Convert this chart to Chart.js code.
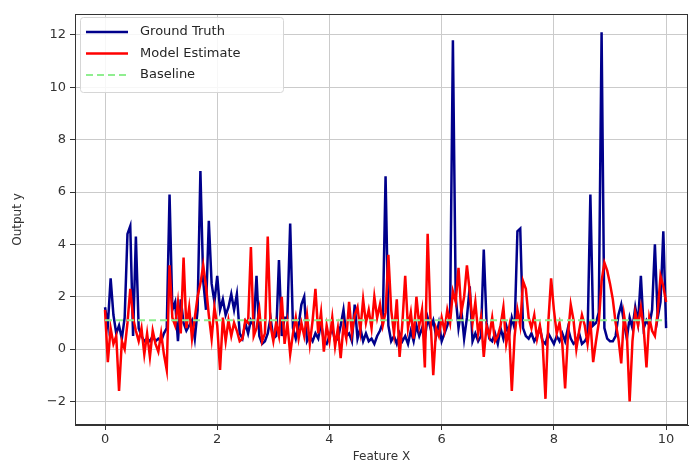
<!DOCTYPE html>
<html lang="en">
<head>
    <meta charset="UTF-8">
    <title>Ground Truth vs Model Estimate</title>
    <script src="https://cdn.jsdelivr.net/npm/chart.js"></script>
    <style>
        html, body { margin: 0; padding: 0; background: #fff; }
        #wrap { width: 690px; height: 464px; }
    </style>
</head>
<body>
    <div id="wrap"><canvas id="lineChart" width="690" height="464"></canvas></div>

    <script>
        // Feature X grid (0 .. 10, step 0.05)
        const xValues = Array.from({ length: 201 }, (_, i) => +(i * 0.05).toFixed(2));

        const groundTruth = [
            1.6, 0.9, 2.7, 1.3, 0.6, 0.9, 0.4, 1.2, 4.4, 4.7,
            0.5, 4.3, 0.8, 0.5, 0.3, 0.4, 0.3, 0.5, 0.3, 0.4,
            0.3, 0.6, 0.8, 5.9, 1.5, 1.8, 0.3, 1.9, 1.0, 0.7,
            0.9, 1.1, 0.4, 1.5, 6.8, 2.6, 1.5, 4.9, 2.5, 1.8,
            2.8, 1.5, 1.9, 1.3, 1.6, 2.1, 1.5, 2.1, 0.6, 0.4,
            1.0, 0.6, 1.1, 0.9, 2.8, 0.5, 0.2, 0.3, 0.6, 1.2,
            0.4, 0.5, 3.4, 0.5, 1.2, 1.2, 4.8, 0.8, 0.4, 0.9,
            1.7, 2.0, 0.3, 0.5, 0.3, 0.6, 0.4, 1.0, 0.3, 0.2,
            0.5, 0.8, 0.3, 0.4, 0.9, 1.5, 0.5, 0.6, 0.3, 1.7,
            0.4, 0.8, 0.3, 0.6, 0.3, 0.4, 0.2, 0.5, 0.7, 1.0,
            6.6, 0.9, 0.3, 0.5, 0.2, 0.6, 0.3, 0.5, 0.2, 0.7,
            0.3, 0.9, 0.5, 0.8, 0.4, 1.2, 0.8, 1.1, 0.5, 1.0,
            0.3, 0.6, 0.9, 1.3, 11.8, 2.0, 0.8, 1.5, 0.4, 1.2,
            2.4, 0.3, 0.6, 0.3, 0.5, 3.8, 1.0, 0.4, 0.3, 0.6,
            0.2, 0.8, 0.4, 0.9, 0.5, 1.2, 0.8, 4.5, 4.6, 0.8,
            0.5, 0.4, 0.6, 0.3, 0.5, 0.8, 0.3, 0.2, 0.6, 0.4,
            0.2, 0.5, 0.3, 0.6, 0.3, 0.8, 0.4, 0.2, 0.3, 0.6,
            0.2, 0.3, 0.5, 5.9, 0.9, 1.0, 1.4, 12.1, 0.8, 0.4,
            0.3, 0.3, 0.5, 1.3, 1.7, 1.0, 0.4, 1.2, 0.8, 1.6,
            1.0, 2.8, 0.8, 1.1, 0.9, 1.5, 4.0, 1.2, 1.8, 4.5,
            0.8
        ];

        const modelEstimate = [
            1.5, -0.5, 0.8, 0.2, 0.5, -1.6, 0.3, 0.0, 1.0, 2.3,
            1.2, 0.7, 0.3, 0.8, -0.2, 0.6, -0.3, 0.7, 0.2, -0.1,
            0.6, -0.2, -0.8, 3.2, 1.2, 0.9, 1.8, 0.6, 3.5, 0.8,
            1.6, 0.4, 1.2, 2.0, 2.5, 3.2, 2.4, 1.3, 0.4, 1.6,
            0.9, -0.8, 1.2, 0.3, 1.1, 0.5, 1.0, 0.7, 0.3, 0.4,
            1.1, 1.0, 3.9, 0.5, 0.8, 1.5, 0.3, 0.6, 4.3, 0.9,
            0.3, 1.0, 0.5, 2.0, 0.2, 1.0, -0.2, 0.6, 1.2, 0.4,
            1.0, 0.5, 1.3, 0.2, 1.1, 2.3, 0.6, 1.4, -0.1, 0.9,
            0.3, 1.2, 0.1, 0.8, -0.35, 0.9, 0.4, 1.8, 0.6, 1.3,
            1.6, 0.7, 1.9, 1.0, 1.5, 0.8, 2.0, 1.2, 1.7, 0.9,
            1.4, 3.6, 1.5, 0.6, 1.9, -0.3, 1.0, 2.8, 0.8, 1.4,
            0.4, 2.0, 0.9, 1.5, -0.7, 4.4, 1.2, -1.0, 0.8, 0.5,
            1.2, 0.7, 1.5, 1.0, 2.2, 1.8, 3.1, 1.4, 2.0, 3.2,
            2.2, 1.0, 1.8, 0.6, 1.2, -0.3, 0.9, 0.5, 1.2, 0.3,
            0.5, 0.9, 1.6, 0.2, 0.8, -1.6, 0.5, 1.5, 0.9, 2.6,
            2.3, 1.2, 0.8, 1.3, 0.4, 0.9, 0.2, -1.9, 1.0, 2.7,
            1.5, 0.6, 1.0, 0.2, -1.5, 0.5, 1.7, 1.1, 0.0, 0.7,
            1.3, 0.9, 0.2, 1.1, -0.5, 0.3, 1.0, 2.6, 3.3, 3.0,
            2.5, 1.9, 1.0, 0.4, -0.55, 1.3, 0.6, -2.0, 0.3, 1.4,
            0.9, 1.6, 0.8, -0.7, 1.2, 0.7, 0.5, 1.4, 2.8, 2.4,
            1.8
        ];

        const baselineX = [0, 10];
        const baselineY = [1.1, 1.1];

        const xTicks = [0, 2, 4, 6, 8, 10];
        const yTicks = [-2, 0, 2, 4, 6, 8, 10, 12];

        const toPoints = (xs, ys) => xs.map((x, i) => ({ x: x, y: ys[i] }));

        // legend drawn inside the plot, upper left
        const insideLegend = {
            id: 'insideLegend',
            afterDatasetsDraw(chart) {
                const ctx = chart.ctx;
                const area = chart.chartArea;
                const x0 = area.left + 5, y0 = area.top + 3, w = 203, h = 75;
                ctx.save();
                ctx.fillStyle = 'rgba(255,255,255,0.85)';
                ctx.strokeStyle = '#d6d6d6';
                ctx.lineWidth = 1;
                ctx.beginPath();
                ctx.roundRect(x0 + 0.5, y0 + 0.5, w, h, 3);
                ctx.fill();
                ctx.stroke();
                ctx.font = '13px "DejaVu Sans"';
                ctx.textBaseline = 'middle';
                chart.data.datasets.forEach((ds, i) => {
                    const y = y0 + 15 + i * 21.5;
                    ctx.strokeStyle = ds.borderColor;
                    ctx.lineWidth = ds.borderWidth;
                    ctx.setLineDash(ds.borderDash || []);
                    ctx.beginPath();
                    ctx.moveTo(x0 + 6, y);
                    ctx.lineTo(x0 + 48, y);
                    ctx.stroke();
                    ctx.setLineDash([]);
                    ctx.fillStyle = '#262626';
                    ctx.fillText(ds.label, x0 + 60, y);
                });
                ctx.restore();
            }
        };

        // matplotlib style frame round the plot
        const frame = {
            id: 'frame',
            afterDraw(chart) {
                const ctx = chart.ctx;
                const a = chart.chartArea;
                ctx.save();
                ctx.strokeStyle = '#333';
                ctx.lineWidth = 1;
                ctx.strokeRect(a.left + 0.5, a.top + 0.5, a.right - a.left - 1, a.bottom - a.top - 1);
                ctx.restore();
            }
        };

        const ctx = document.getElementById('lineChart').getContext('2d');
        new Chart(ctx, {
            type: 'line',
            data: {
                datasets: [
                    {
                        label: 'Ground Truth',
                        data: toPoints(xValues, groundTruth),
                        borderColor: '#00008b',
                        borderWidth: 2.5,
                        pointRadius: 0,
                        order: 3
                    },
                    {
                        label: 'Model Estimate',
                        data: toPoints(xValues, modelEstimate),
                        borderColor: '#ff0000',
                        borderWidth: 2.5,
                        pointRadius: 0,
                        order: 2
                    },
                    {
                        label: 'Baseline',
                        data: toPoints(baselineX, baselineY),
                        borderColor: '#90ee90',
                        borderWidth: 2,
                        borderDash: [7, 4],
                        pointRadius: 0,
                        order: 1
                    }
                ]
            },
            options: {
                responsive: false,
                animation: false,
                layout: { padding: { top: 14, right: 2, left: 11, bottom: 0 } },
                plugins: {
                    legend: { display: false },
                    tooltip: { enabled: false }
                },
                scales: {
                    x: {
                        type: 'linear',
                        min: -0.535,
                        max: 10.39,
                        afterBuildTicks: s => { s.ticks = xTicks.map(v => ({ value: v })); },
                        afterFit: s => { s.height = 39; },
                        grid: { color: '#cbcbcb', tickColor: '#333', tickLength: 5, lineWidth: 1 },
                        border: { color: '#333' },
                        ticks: { color: '#333', font: { family: 'DejaVu Sans', size: 13 }, padding: 2, maxRotation: 0 },
                        title: { display: true, text: 'Feature X', color: '#333', font: { family: 'DejaVu Sans', size: 12 }, padding: { top: 0, bottom: 0 } }
                    },
                    y: {
                        type: 'linear',
                        min: -2.9,
                        max: 12.8,
                        afterBuildTicks: s => { s.ticks = yTicks.map(v => ({ value: v })); },
                        afterFit: s => { s.width = 64; },
                        grid: { color: '#cbcbcb', tickColor: '#333', tickLength: 5, lineWidth: 1 },
                        border: { color: '#333' },
                        ticks: {
                            color: '#333',
                            font: { family: 'DejaVu Sans', size: 13 },
                            padding: 4,
                            callback: v => (v < 0 ? '\u2212' + Math.abs(v) : String(v))
                        },
                        title: { display: true, text: 'Output y', color: '#333', font: { family: 'DejaVu Sans', size: 12 }, padding: { top: 0, bottom: 4 } }
                    }
                }
            },
            plugins: [insideLegend, frame]
        });
    </script>
</body>
</html>
